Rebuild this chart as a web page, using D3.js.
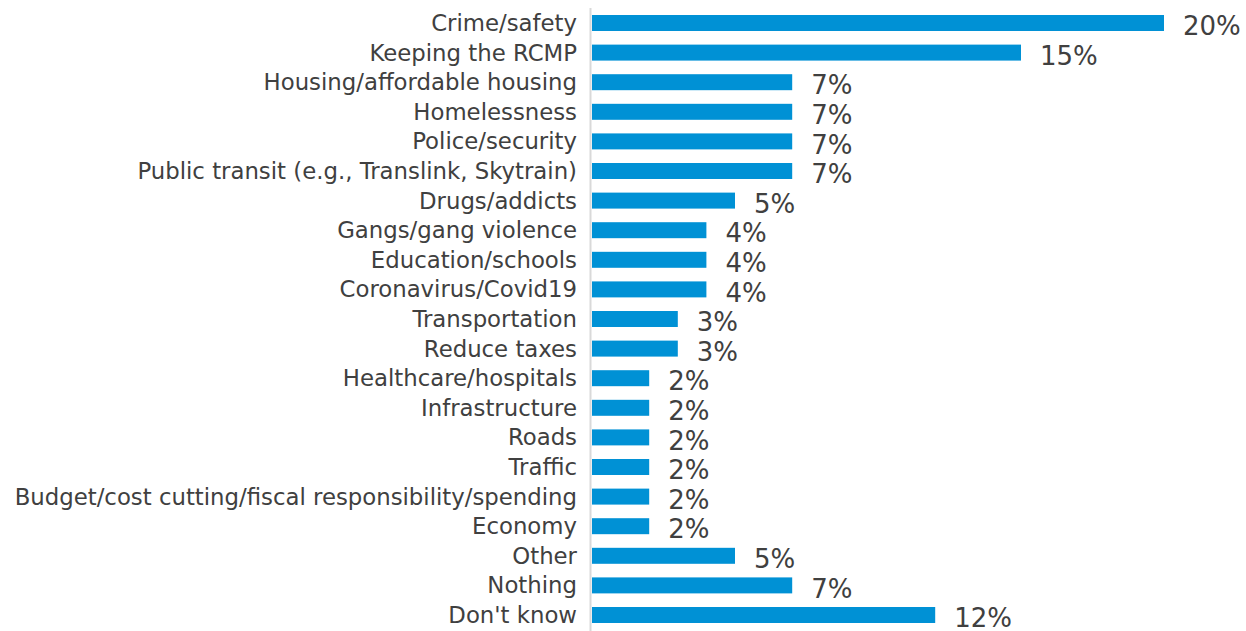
<!DOCTYPE html>
<html><head><meta charset="utf-8">
<script src="https://cdn.jsdelivr.net/npm/d3@7"></script>
<style>body{margin:0;background:#fff}svg{display:block}</style>
</head><body>
<svg id="c" width="1246" height="631"></svg>
<script>
const categories = ["Crime/safety","Keeping the RCMP","Housing/affordable housing","Homelessness","Police/security","Public transit (e.g., Translink, Skytrain)","Drugs/addicts","Gangs/gang violence","Education/schools","Coronavirus/Covid19","Transportation","Reduce taxes","Healthcare/hospitals","Infrastructure","Roads","Traffic","Budget/cost cutting/fiscal responsibility/spending","Economy","Other","Nothing","Don't know"];
const values = [20,15,7,7,7,7,5,4,4,4,3,3,2,2,2,2,2,2,5,7,12];

const svg = d3.select("#c");
const x = d3.scaleLinear().domain([0,20]).range([592,1164]);
const y = d3.scaleBand().domain(categories).range([8.2,629.8]).paddingInner(0.46).paddingOuter(0.23);

svg.append("line").attr("x1",590.5).attr("x2",590.5).attr("y1",8).attr("y2",631)
  .attr("stroke","#d9d9d9").attr("stroke-width",2);

svg.selectAll("rect.bar").data(categories).join("rect").attr("class","bar")
  .attr("x",x(0)).attr("y",d=>y(d)).attr("height",y.bandwidth())
  .attr("width",(d,i)=>x(values[i])-x(0)).attr("fill","#0091d5");

svg.selectAll("text.cat").data(categories).join("text").attr("class","cat")
  .attr("x",577).attr("y",d=>y(d)+y.bandwidth()/2).attr("dy","0.35em")
  .attr("text-anchor","end").attr("font-family","DejaVu Sans").attr("font-size",22.8)
  .attr("fill","#404040").text(d=>d);

svg.selectAll("text.val").data(categories).join("text").attr("class","val")
  .attr("x",(d,i)=>x(values[i])+19).attr("y",d=>y(d)+y.bandwidth()/2+3).attr("dy","0.35em")
  .attr("font-family","DejaVu Sans").attr("font-size",26)
  .attr("fill","#404040").text((d,i)=>values[i]+"%");
</script>
</body></html>
